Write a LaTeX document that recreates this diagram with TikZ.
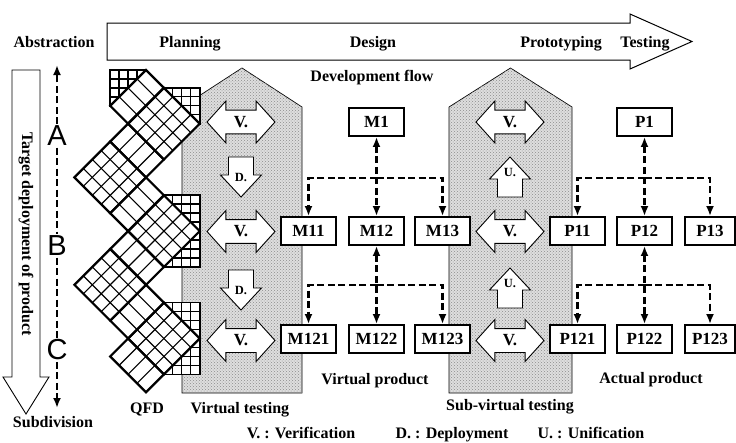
\documentclass[tikz,border=0pt]{standalone}
\usepackage{fontspec}
\setmainfont{Liberation Serif}
\newfontfamily\abcfont{Liberation Sans}
\usetikzlibrary{arrows.meta,positioning,shapes.arrows,patterns}
\definecolor{stipGray}{RGB}{222,222,222}
\newcommand{\lblfont}{\fontsize{16}{19}\selectfont\bfseries}
\tikzset{
  lbl/.style={font=\lblfont, inner sep=0pt},
  prodbox/.style={draw, line width=1.9pt, fill=white, minimum width=55pt, minimum height=28pt,
                  inner sep=0pt, font=\fontsize{17}{20}\selectfont\bfseries},
  vshape/.style={double arrow, draw, fill=white, line width=0.9pt, minimum height=68pt,
                 double arrow head extend=9pt, double arrow tip angle=96, inner xsep=1pt, inner ysep=5.8pt,
                 font=\fontsize{17}{20}\selectfont\bfseries},
  hollow/.style={draw, fill=white, line width=0.9pt, line join=miter},
  downshape/.pic={\path[hollow] (-12.5,0) -- (12.5,0) -- (12.5,18) -- (20.5,18) -- (0,40)
                   -- (-20.5,18) -- (-12.5,18) -- cycle;},
  dulbl/.style={inner sep=0pt, font=\fontsize{12.5}{14}\selectfont\bfseries},
  stipple/.style={draw, line width=0.7pt, fill=stipGray,
                  postaction={pattern=crosshatch dots, pattern color=black!45}},
  dashlink/.style={line width=2.3pt, dash pattern=on 7pt off 3.5pt},
  tipend/.style={-{Latex[length=10pt,width=8pt]}},
  tipboth/.style={{Latex[length=10pt,width=8pt]}-{Latex[length=10pt,width=8pt]}},
  qfdthin/.style={line width=1.1pt},
  qfdthick/.style={line width=2.2pt, line join=miter},
  letter/.style={font=\abcfont\fontsize{29}{32}\selectfont, inner sep=1.5pt}
}

\begin{document}
\begin{tikzpicture}[x=1pt, y=-1pt]
\useasboundingbox (0,0) rectangle (736,442);

% development flow arrow
\draw[line width=1pt, fill=white] (107,23) -- (630,23) -- (630,14) -- (692,41.5)
  -- (630,69) -- (630,60) -- (107,60) -- cycle;
\node[lbl, anchor=base] (plan) at (190,47) {Planning};
\node[lbl, anchor=base] (des) at (373,47) {Design};
\node[lbl, anchor=base] (proto) at (561,47) {Prototyping};
\node[lbl, anchor=base] (test) at (645,47) {Testing};
\node[lbl, anchor=base] (devflow) at (372,81) {Development flow};
\node[lbl, anchor=base] (abs) at (54,47) {Abstraction};
\node[lbl, anchor=base] (sub) at (53,427) {Subdivision};

% target deployment arrow
\draw[line width=0.9pt, fill=white] (12,70) -- (40,70) -- (40,377) -- (49,377) -- (26,414)
  -- (3,377) -- (12,377) -- cycle;
\node[lbl, rotate=-90] (tgt) at (26,234) {Target deployment of product};

% A B C scale
\node[letter] (A) at (57,136) {A};
\node[letter] (B) at (57,246) {B};
\node[letter] (C) at (57,350) {C};
\coordinate (abstop) at (57,65);
\coordinate (subbot) at (57,408);
\draw[dashlink, tipend] (A) -- (abstop);
\draw[dashlink] (A) -- (B);
\draw[dashlink] (B) -- (C);
\draw[dashlink, tipend] (C) -- (subbot);

% testing zones
\path[stipple] (182,393) -- (182,107) -- (242,68) -- (302,107) -- (302,393) -- cycle;
\path[stipple] (449,393) -- (449,107) -- (510.5,68) -- (572,107) -- (572,393) -- cycle;

% QFD side grids
\foreach \gx/\gy/\gh in {110/70/36, 163.7/87.7/36, 163.7/195/72, 163.7/302.5/72} {
  \fill[white] (\gx,\gy) rectangle (\gx+36,\gy+\gh);
  \pgfmathtruncatemacro\nrows{\gh/9-1}
  \foreach \k in {9,18,27} \draw[qfdthin] (\gx+\k,\gy) -- (\gx+\k,\gy+\gh);
  \foreach \r in {1,...,\nrows} \draw[qfdthin] (\gx,\gy+9*\r) -- (\gx+36,\gy+9*\r);
  \draw[line width=1.6pt] (\gx,\gy) rectangle (\gx+36,\gy+\gh);
}

% QFD chain
\begin{scope}[shift={(146,70)}, x={(17.9pt,-17.9pt)}, y={(-17.9pt,-17.9pt)}]
  \fill[white] (0,0) -- (3,0) -- (3,3) -- (6,3) -- (6,6) -- (9,6) -- (9,9) -- (7,9) -- (7,8)
    -- (4,8) -- (4,5) -- (1,5) -- (1,2) -- (0,2) -- cycle;
  \foreach \u/\v in {1/0,1/3,4/3,4/6,7/6} {
    \foreach \k in {0.5,1,1.5} {
      \draw[qfdthin] (\u+\k,\v) -- (\u+\k,\v+2);
      \draw[qfdthin] (\u,\v+\k) -- (\u+2,\v+\k);
    }
    \draw[qfdthick] (\u,\v) -- (\u+2,\v) -- (\u+2,\v+2) -- (\u,\v+2) -- cycle;
  }
  \foreach \u/\v in {0/0,3/3,6/6} {
    \foreach \k in {0.5,1,1.5} \draw[qfdthin] (\u,\v+\k) -- (\u+1,\v+\k);
    \draw[qfdthick] (\u,\v) -- (\u+1,\v) -- (\u+1,\v+2) -- (\u,\v+2) -- cycle;
  }
  \foreach \u/\v in {1/2,4/5,7/8} {
    \foreach \k in {0.5,1,1.5} \draw[qfdthin] (\u+\k,\v) -- (\u+\k,\v+1);
    \draw[qfdthick] (\u,\v) -- (\u+2,\v) -- (\u+2,\v+1) -- (\u,\v+1) -- cycle;
  }
\end{scope}

% verification / deployment / unification
\node[vshape] (v1) at (241,122) {V.};
\node[vshape] (v2) at (241,231.5) {V.};
\node[vshape] (v3) at (241,340.5) {V.};
\pic at (241,157) {downshape};
\node[dulbl] (d1) at (241,177) {D.};
\pic at (241,270) {downshape};
\node[dulbl] (d2) at (241,290) {D.};
\node[vshape] (sv1) at (510,122) {V.};
\node[vshape] (sv2) at (510,231.5) {V.};
\node[vshape] (sv3) at (510,340.5) {V.};
\pic[yscale=-1] at (510,197) {downshape};
\node[dulbl] (u1) at (510,172) {U.};
\pic[yscale=-1] at (510,308) {downshape};
\node[dulbl] (u2) at (510,283) {U.};

% virtual product
\node[prodbox] (M1) at (376.5,122) {M1};
\node[prodbox] (M11) at (308.5,231) {M11};
\node[prodbox] (M12) at (376.5,231) {M12};
\node[prodbox] (M13) at (442.5,231) {M13};
\node[prodbox] (M121) at (308.5,339) {M121};
\node[prodbox] (M122) at (376.5,339) {M122};
\node[prodbox] (M123) at (442.5,339) {M123};

% actual product
\node[prodbox] (P1) at (644.5,122) {P1};
\node[prodbox] (P11) at (577.5,231) {P11};
\node[prodbox] (P12) at (644.5,231) {P12};
\node[prodbox, minimum width=50pt] (P13) at (710,231) {P13};
\node[prodbox] (P121) at (577.5,339) {P121};
\node[prodbox] (P122) at (644.5,339) {P122};
\node[prodbox, minimum width=50pt] (P123) at (710,339) {P123};

% links
\coordinate (mj1) at (376.5,178);
\coordinate (mj2) at (376.5,285);
\coordinate (pj1) at (644.5,178);
\coordinate (pj2) at (644.5,285);
\draw[dashlink, tipboth] (M1) -- (M12);
\draw[dashlink, tipend] (mj1) -| (M11);
\draw[dashlink, tipend] (mj1) -| (M13);
\draw[dashlink, tipboth] (M12) -- (M122);
\draw[dashlink, tipend] (mj2) -| (M121);
\draw[dashlink, tipend] (mj2) -| (M123);
\draw[dashlink, tipboth] (P1) -- (P12);
\draw[dashlink, tipend] (pj1) -| (P11);
\draw[dashlink, tipend] (pj1) -| (P13);
\draw[dashlink, tipboth] (P12) -- (P122);
\draw[dashlink, tipend] (pj2) -| (P121);
\draw[dashlink, tipend] (pj2) -| (P123);

% captions
\node[lbl, anchor=base] (qfd) at (147,413) {QFD};
\node[lbl, anchor=base] (vtest) at (240,413) {Virtual testing};
\node[lbl, anchor=base] (svtest) at (510,410) {Sub-virtual testing};
\node[lbl, anchor=base] (vprod) at (375,384) {Virtual product};
\node[lbl, anchor=base] (aprod) at (651,383) {Actual product};
\node[lbl, anchor=base] (legV) at (301,438) {V. : Verification};
\node[lbl, anchor=base] (legD) at (452,438) {D. : Deployment};
\node[lbl, anchor=base] (legU) at (591,438) {U. : Unification};
\end{tikzpicture}
\end{document}
